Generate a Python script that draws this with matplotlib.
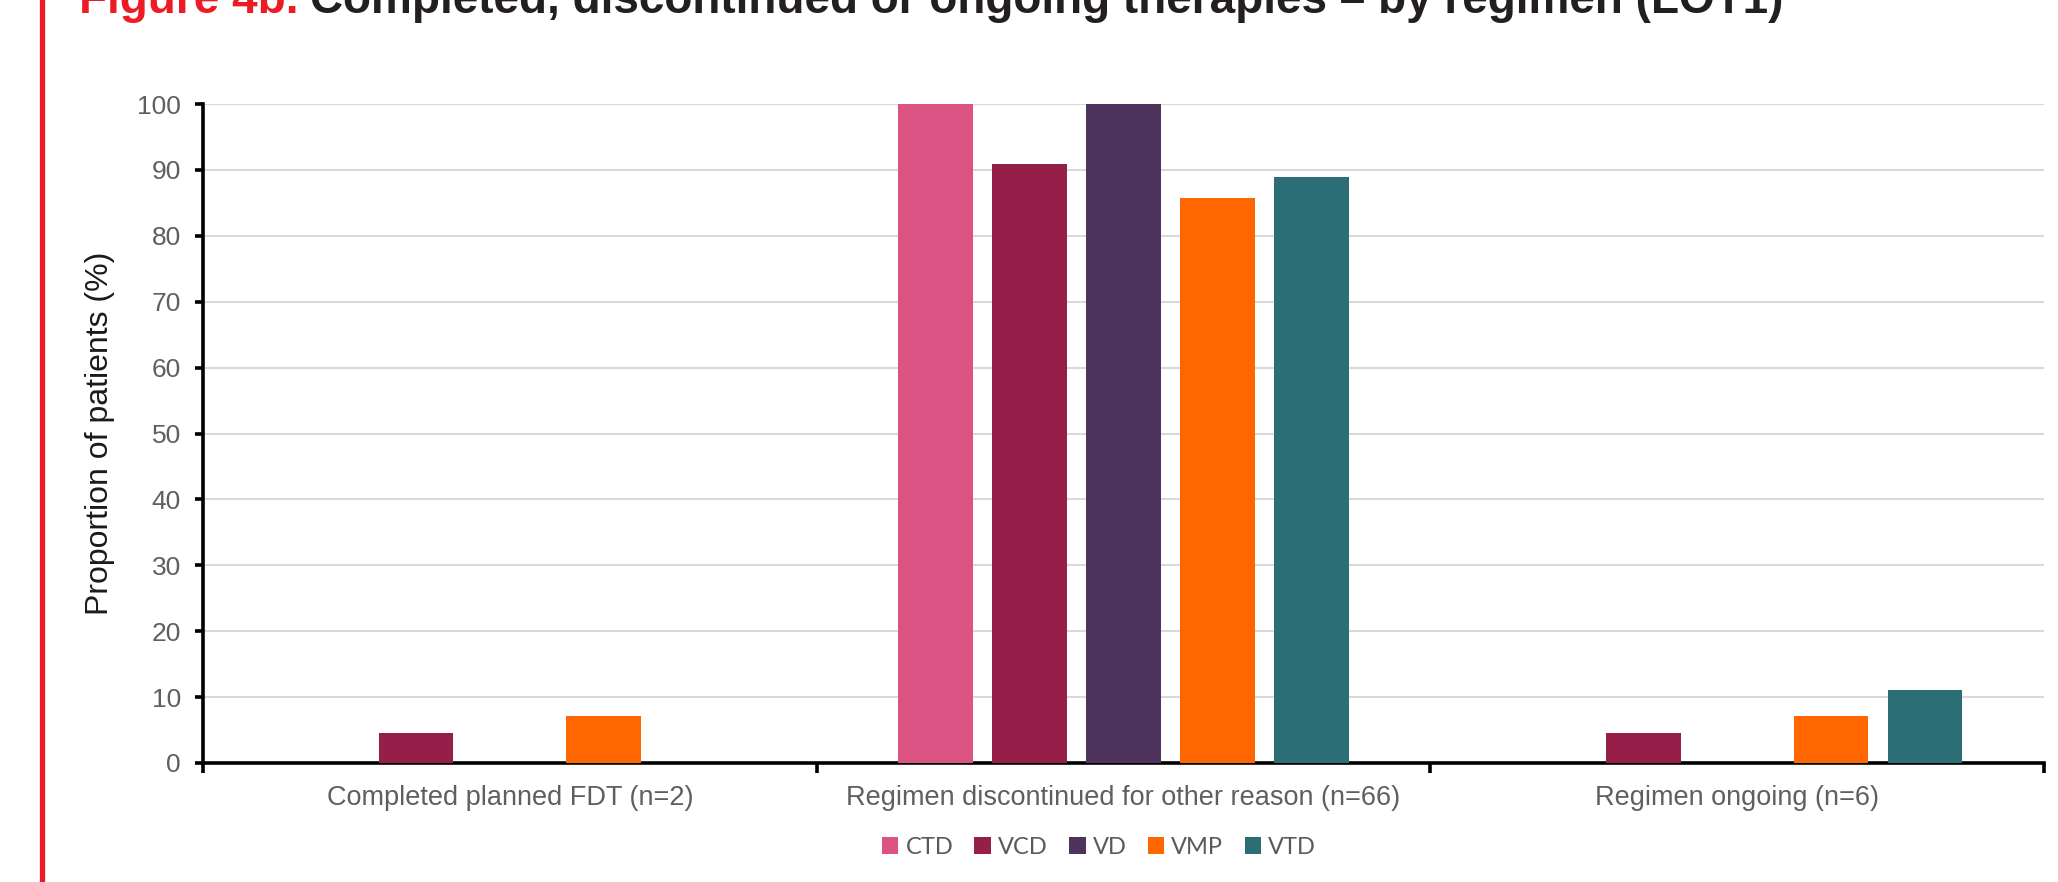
import numpy as np
import matplotlib

matplotlib.use("Agg")
import matplotlib.pyplot as plt
from matplotlib.lines import Line2D
from matplotlib.patches import Patch

plt.rcParams.update({
    "font.family": ["Liberation Sans", "DejaVu Sans"],
})

# proportion of patients (%) per regimen, one value per outcome
categories = ["Completed planned FDT (n=2)",
              "Regimen discontinued for other reason (n=66)",
              "Regimen ongoing (n=6)"]
regimens = ["CTD", "VCD", "VD", "VMP", "VTD"]
ctd = [0, 100, 0]
vcd = [4.5, 90.9, 4.5]
vd = [0, 100, 0]
vmp = [7.1, 85.7, 7.1]
vtd = [0, 88.9, 11.1]
colors = ["#DA5383", "#951F48", "#4E345C", "#FF6600", "#2B6E76"]

W, H, DPI = 2058, 882, 100
fig = plt.figure(figsize=(W / DPI, H / DPI), dpi=DPI)
ax = fig.add_axes([203 / W, 1 - 763 / H, (2044 - 203) / W, (763 - 104) / H])

x = np.arange(len(categories))
bar_w, step = 0.122, 0.153
for i, (vals, c) in enumerate(zip([ctd, vcd, vd, vmp, vtd], colors)):
    ax.bar(x + (i - 2) * step, vals, width=bar_w, color=c, zorder=3)

ax.set_xlim(-0.5, len(categories) - 0.5)
ax.set_ylim(0, 100)
ax.set_yticks(np.arange(0, 101, 10))
ax.yaxis.grid(True, color="#d9d9d9", linewidth=1.5, zorder=0)
ax.set_axisbelow(True)

for s in ("top", "right"):
    ax.spines[s].set_visible(False)
for s in ("left", "bottom"):
    ax.spines[s].set_linewidth(2.6)
    ax.spines[s].set_color("black")

ax.tick_params(axis="y", direction="out", length=6, width=2.6,
               labelsize=19, labelcolor="#5f5f5f", pad=10)
ax.set_xticks(x)
ax.set_xticklabels(categories)
ax.tick_params(axis="x", which="major", length=0, labelsize=19.5,
               labelcolor="#5f5f5f", pad=16)
ax.set_xticks(np.arange(-0.5, len(categories)), minor=True)
ax.tick_params(axis="x", which="minor", direction="out", length=7, width=2.6)

ax.set_ylabel("Proportion of patients (%)", fontsize=23, color="#1a1a1a",
              labelpad=16)

handles = [Patch(facecolor=c, edgecolor="none") for c in colors]
fig.legend(handles, regimens, loc="center", bbox_to_anchor=(1099 / W, 1 - 847 / H),
           ncol=5, frameon=False, handlelength=0.7, handleheight=0.7,
           handletextpad=0.3, columnspacing=0.9,
           prop={"family": ["Lato", "DejaVu Sans"], "size": 17},
           labelcolor="#595959")

# red rule down the left margin
fig.add_artist(Line2D([42 / W, 42 / W], [0, 1], color="#ED1C24", linewidth=3.8,
                      transform=fig.transFigure))

# heading: red figure number followed by the dark title text
y_base = 1 - 13 / H
t1 = fig.text(79 / W, y_base, "Figure 4b.", color="#ED1C24", fontsize=33,
              fontweight="bold", va="baseline", ha="left")
fig.canvas.draw()
bb = t1.get_window_extent()
fig.text((bb.x1 + 12) / W, y_base,
         "Completed, discontinued or ongoing therapies \u2013 by regimen (LOT1)",
         color="#231F20", fontsize=33, fontweight="bold", va="baseline", ha="left")

fig.savefig("out.png", dpi=DPI)
